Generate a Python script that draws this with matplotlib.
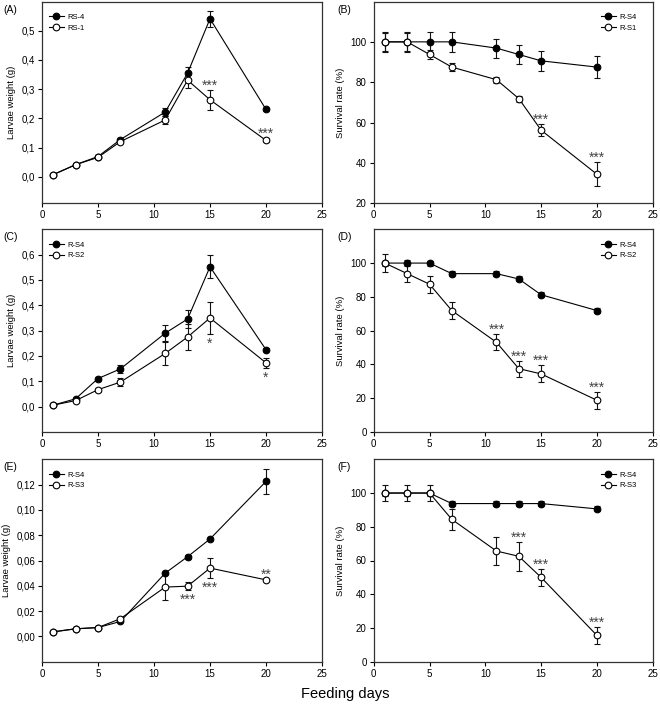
import matplotlib.pyplot as plt
import numpy as np

plt.rcParams['font.family'] = ['Liberation Sans', 'DejaVu Sans']

days = [1, 3, 5, 7, 11, 13, 15, 20]

# (A) larvae weight, RS-4 vs RS-1
a_s4 = [0.008, 0.042, 0.070, 0.128, 0.222, 0.355, 0.541, 0.231]
a_s4_err = [0.003, 0.003, 0.004, 0.005, 0.013, 0.020, 0.028, 0.004]
a_sx = [0.008, 0.042, 0.067, 0.121, 0.195, 0.331, 0.264, 0.125]
a_sx_err = [0.004, 0.003, 0.004, 0.005, 0.013, 0.027, 0.034, 0.007]

# (B) survival, R-S4 vs R-S1
b_s4 = [100, 100, 100, 100, 96.9, 93.75, 90.6, 87.5]
b_s4_err = [4.8, 4.8, 4.8, 4.8, 4.7, 4.7, 5.0, 5.4]
b_sx = [100, 100, 93.75, 87.5, 81.25, 71.9, 56.25, 34.4]
b_sx_err = [4.5, 4.5, 2.3, 1.8, 1.5, 1.5, 2.8, 6.0]

# (C) larvae weight, R-S4 vs R-S2
c_s4 = [0.006, 0.031, 0.111, 0.149, 0.290, 0.346, 0.552, 0.225]
c_s4_err = [0.003, 0.005, 0.008, 0.015, 0.031, 0.037, 0.046, 0.005]
c_sx = [0.006, 0.024, 0.067, 0.097, 0.210, 0.275, 0.350, 0.173]
c_sx_err = [0.003, 0.004, 0.008, 0.017, 0.046, 0.050, 0.065, 0.020]

# (D) survival, R-S4 vs R-S2
d_s4 = [100, 100, 100, 93.75, 93.75, 90.6, 81.25, 71.9]
d_s4_err = [1.5, 1.8, 1.5, 1.5, 1.5, 1.5, 1.5, 1.5]
d_sx = [100, 93.75, 87.5, 71.9, 53.1, 37.5, 34.4, 18.8]
d_sx_err = [5.2, 5.0, 5.0, 4.8, 4.8, 4.8, 5.0, 5.0]

# (E) larvae weight, R-S4 vs R-S3
e_s4 = [0.0037, 0.0060, 0.0070, 0.0118, 0.0500, 0.0630, 0.0770, 0.1225]
e_s4_err = [0.0004, 0.0004, 0.0004, 0.0008, 0.0006, 0.0015, 0.0010, 0.0098]
e_sx = [0.0035, 0.0060, 0.0070, 0.0140, 0.0390, 0.0397, 0.0540, 0.0447]
e_sx_err = [0.0004, 0.0004, 0.0004, 0.0010, 0.0100, 0.0030, 0.0080, 0.0005]

# (F) survival, R-S4 vs R-S3
f_s4 = [100, 100, 100, 93.75, 93.75, 93.75, 93.75, 90.6]
f_s4_err = [1.5, 1.5, 1.5, 1.5, 1.5, 1.5, 1.5, 1.5]
f_sx = [100, 100, 100, 84.4, 65.6, 62.5, 50.0, 15.6]
f_sx_err = [5.0, 5.0, 5.0, 6.3, 8.5, 8.7, 5.0, 5.0]

# significance marks on the open series: (day index, text, side)
a_sig = [(6, '***', 'up'), (7, '***', 'up')]
b_sig = [(6, '***', 'up'), (7, '***', 'up')]
c_sig = [(6, '*', 'down'), (7, '*', 'down')]
d_sig = [(4, '***', 'up'), (5, '***', 'up'), (6, '***', 'up'), (7, '***', 'up')]
e_sig = [(5, '***', 'down'), (6, '***', 'down'), (7, '**', 'up')]
f_sig = [(5, '***', 'up'), (6, '***', 'up'), (7, '***', 'up')]

w_ticks_ac = [0.0, 0.1, 0.2, 0.3, 0.4, 0.5, 0.6]
w_labels_ac = ['0,0', '0,1', '0,2', '0,3', '0,4', '0,5', '0,6']
w_ticks_e = [0.0, 0.02, 0.04, 0.06, 0.08, 0.10, 0.12]
w_labels_e = ['0,00', '0,02', '0,04', '0,06', '0,08', '0,10', '0,12']
s_ticks_b = [20, 40, 60, 80, 100]
s_ticks_df = [0, 20, 40, 60, 80, 100]
x_ticks = [0, 5, 10, 15, 20, 25]

W, H = 660, 708
fig = plt.figure(figsize=(6.6, 7.08), dpi=100)


def box(x0, top, x1, bottom):
    return fig.add_axes([x0 / W, 1 - bottom / H, (x1 - x0) / W, (bottom - top) / H])


def panel(ax, s4, s4e, sx, sxe, names, sig, ylim, yt, ytl, ylab, legright):
    ekw = dict(fmt='none', ecolor='#111111', elinewidth=0.8, capsize=2.4, capthick=0.8)
    ax.errorbar(days, s4, yerr=s4e, zorder=2, **ekw)
    ax.errorbar(days, sx, yerr=sxe, zorder=2, **ekw)
    lkw = dict(color='black', lw=0.8, marker='o', markersize=4.8, markeredgewidth=0.8,
               markeredgecolor='black')
    ax.plot(days, s4, markerfacecolor='black', label=names[0], zorder=3, **lkw)
    ax.plot(days, sx, markerfacecolor='white', label=names[1], zorder=4, **lkw)
    for i, txt, side in sig:
        if side == 'up':
            ax.annotate(txt, (days[i], sx[i] + sxe[i]), xytext=(0, -2),
                        textcoords='offset points', ha='center', va='bottom',
                        fontsize=10, color='#444444')
        else:
            ax.annotate(txt, (days[i], sx[i] - sxe[i]), xytext=(0, -2),
                        textcoords='offset points', ha='center', va='top',
                        fontsize=10, color='#444444')
    ax.set_xlim(0, 25)
    ax.set_ylim(*ylim)
    ax.set_xticks(x_ticks)
    ax.set_yticks(yt)
    ax.set_yticklabels(ytl)
    ax.set_ylabel(ylab, fontsize=6.8, labelpad=4)
    ax.tick_params(direction='out', length=3, width=0.8, labelsize=7, pad=2,
                   top=False, right=False)
    for sp in ax.spines.values():
        sp.set_color('#333333')
        sp.set_linewidth(0.9)
    lkw = dict(fontsize=5.5, frameon=False, handlelength=2.0, labelspacing=0.45,
               handletextpad=0.4, borderpad=0.2, borderaxespad=0.3)
    if legright:
        ax.legend(loc='upper right', bbox_to_anchor=(0.955, 0.96), **lkw)
    else:
        ax.legend(loc='upper left', bbox_to_anchor=(0.01, 0.96), **lkw)


axA = box(42, 1.5, 322, 203.3)
axB = box(373.7, 1.5, 652.7, 203.3)
axC = box(42, 229.3, 322, 432)
axD = box(373.7, 229.3, 652.7, 432)
axE = box(42, 459.3, 322, 661.7)
axF = box(373.7, 459.3, 652.7, 661.7)

panel(axA, a_s4, a_s4_err, a_sx, a_sx_err, ['RS-4', 'RS-1'], a_sig,
      (-0.09, 0.6), w_ticks_ac[:6], w_labels_ac[:6], 'Larvae weight (g)', False)
panel(axB, b_s4, b_s4_err, b_sx, b_sx_err, ['R-S4', 'R-S1'], b_sig,
      (20, 120), s_ticks_b, [str(v) for v in s_ticks_b], 'Survival rate (%)', True)
panel(axC, c_s4, c_s4_err, c_sx, c_sx_err, ['R-S4', 'R-S2'], c_sig,
      (-0.1, 0.7), w_ticks_ac, w_labels_ac, 'Larvae weight (g)', False)
panel(axD, d_s4, d_s4_err, d_sx, d_sx_err, ['R-S4', 'R-S2'], d_sig,
      (0, 120), s_ticks_df, [str(v) for v in s_ticks_df], 'Survival rate (%)', True)
panel(axE, e_s4, e_s4_err, e_sx, e_sx_err, ['R-S4', 'R-S3'], e_sig,
      (-0.02, 0.14), w_ticks_e, w_labels_e, 'Larvae weight (g)', False)
panel(axF, f_s4, f_s4_err, f_sx, f_sx_err, ['R-S4', 'R-S3'], f_sig,
      (0, 120), s_ticks_df, [str(v) for v in s_ticks_df], 'Survival rate (%)', True)

for ax, tag, x in [(axA, '(A)', 3), (axB, '(B)', 337), (axC, '(C)', 3),
                   (axD, '(D)', 337), (axE, '(E)', 3), (axF, '(F)', 337)]:
    top = 1 - ax.get_position().y1
    fig.text(x / W, 1 - top - 3 / H, tag, fontsize=7.5, va='top', ha='left')

fig.text(345 / W, 1 - 694 / H, 'Feeding days', fontsize=10.5, ha='center', va='center')

plt.savefig('out.png', dpi=100)
